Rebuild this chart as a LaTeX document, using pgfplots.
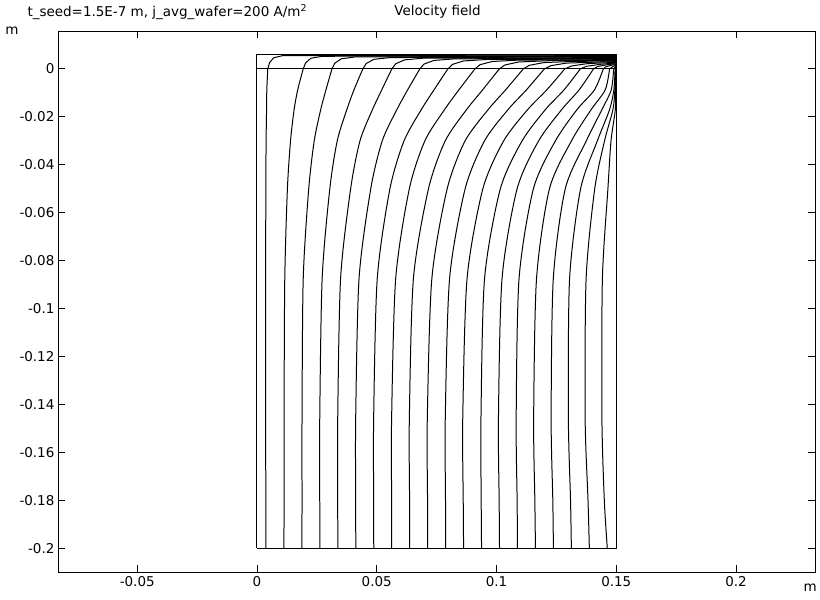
\documentclass[border=0pt]{standalone}
\usepackage{fontspec}
\setmainfont{DejaVu Sans}
\usepackage{pgfplots}
\pgfplotsset{compat=1.18}
\pgfplotsset{
  sl/.style={black, line width=1pt, line join=round},
  lo/.style={sl, smooth, tension=0.45},
}
\newcommand{\lbl}{\fontsize{13.5}{16}\selectfont}
\begin{document}
\begin{tikzpicture}
\begin{axis}[
    scale only axis,
    width=758pt, height=542pt,
    xmin=-0.0831, xmax=0.233,
    ymin=-0.21, ymax=0.0158,
    xtick={-0.05,0,0.05,0.1,0.15,0.2},
    xticklabels={-0.05,0,0.05,0.1,0.15,0.2},
    ytick={-0.2,-0.18,-0.16,-0.14,-0.12,-0.1,-0.08,-0.06,-0.04,-0.02,0},
    yticklabels={-0.2,-0.18,-0.16,-0.14,-0.12,-0.1,-0.08,-0.06,-0.04,-0.02,0},
    tick align=inside,
    major tick length=7pt,
    tick label style={font=\lbl},
    xticklabel style={yshift=-1pt},
    axis line style={line width=0.8pt},
    every tick/.style={black, line width=0.8pt},
]
% geometry
\addplot[sl] coordinates {(0,-0.2) (0.15,-0.2) (0.15,0.006) (0,0.006) (0,-0.2)};
\addplot[sl] coordinates {(0,0) (0.15,0)};
% streamlines: part below y=0 (smooth) and part inside the thin gap
\addplot[lo] coordinates {(0.00375,-0.2)(0.0037,-0.18)(0.0036,-0.146)(0.0036,-0.0875)(0.0037,-0.05)(0.0038,-0.03)(0.0040,-0.017)(0.0041,-0.00875)(0.0045,0)};
\addplot[sl] coordinates {(0.0045,0)(0.00525,0.0026)(0.0070,0.00464)(0.01075,0.00551)(0.15,0.0058)};
\addplot[lo] coordinates {(0.01125,-0.2)(0.0113,-0.18)(0.0113,-0.146)(0.0116,-0.0875)(0.0127,-0.05)(0.0140,-0.03)(0.0155,-0.017)(0.0170,-0.00875)(0.0193,0)};
\addplot[sl] coordinates {(0.0193,0)(0.0203,0.00248)(0.0225,0.00442)(0.0273,0.00524)(0.15,0.00552)};
\addplot[lo] coordinates {(0.01875,-0.2)(0.0188,-0.18)(0.0188,-0.146)(0.0193,-0.0875)(0.0216,-0.05)(0.0239,-0.03)(0.0266,-0.017)(0.0288,-0.00875)(0.0313,0)};
\addplot[sl] coordinates {(0.0313,0)(0.0325,0.00236)(0.0352,0.00419)(0.0411,0.00498)(0.15,0.00524)};
\addplot[lo] coordinates {(0.02625,-0.2)(0.0262,-0.18)(0.0262,-0.146)(0.0272,-0.0875)(0.0304,-0.05)(0.0335,-0.03)(0.0375,-0.017)(0.0405,-0.00875)(0.0442,0)};
\addplot[sl] coordinates {(0.0442,0)(0.0456,0.00223)(0.0488,0.00397)(0.0557,0.00471)(0.15,0.00496)};
\addplot[lo] coordinates {(0.03375,-0.2)(0.0337,-0.18)(0.0337,-0.146)(0.0349,-0.0875)(0.0391,-0.05)(0.0430,-0.03)(0.0482,-0.017)(0.0521,-0.00875)(0.0563,0)};
\addplot[sl] coordinates {(0.0563,0)(0.0579,0.00211)(0.0616,0.00374)(0.0696,0.00445)(0.15,0.00468)};
\addplot[lo] coordinates {(0.04125,-0.2)(0.0412,-0.18)(0.0412,-0.146)(0.0426,-0.0875)(0.0475,-0.05)(0.0523,-0.03)(0.0584,-0.017)(0.0629,-0.00875)(0.0680,0)};
\addplot[sl] coordinates {(0.0680,0)(0.0697,0.00198)(0.0739,0.00352)(0.0829,0.00418)(0.15,0.0044)};
\addplot[lo] coordinates {(0.04875,-0.2)(0.0487,-0.18)(0.0487,-0.146)(0.0502,-0.0875)(0.0555,-0.05)(0.0614,-0.03)(0.0686,-0.017)(0.0739,-0.00875)(0.0797,0)};
\addplot[sl] coordinates {(0.0797,0)(0.0816,0.00185)(0.0862,0.0033)(0.0962,0.00391)(0.15,0.00412)};
\addplot[lo] coordinates {(0.05625,-0.2)(0.0562,-0.18)(0.0562,-0.146)(0.0579,-0.0875)(0.0636,-0.05)(0.0701,-0.03)(0.0783,-0.017)(0.0843,-0.00875)(0.0910,0)};
\addplot[sl] coordinates {(0.0910,0)(0.0931,0.00173)(0.0982,0.00307)(0.1092,0.00365)(0.15,0.00384)};
\addplot[lo] coordinates {(0.06375,-0.2)(0.0637,-0.18)(0.0636,-0.146)(0.0653,-0.0875)(0.0716,-0.05)(0.0786,-0.03)(0.0875,-0.017)(0.0942,-0.00875)(0.1012,0)};
\addplot[sl] coordinates {(0.1012,0)(0.1035,0.0016)(0.1091,0.00285)(0.1212,0.00338)(0.15,0.00356)};
\addplot[lo] coordinates {(0.07125,-0.2)(0.0712,-0.18)(0.0711,-0.146)(0.0730,-0.0875)(0.0794,-0.05)(0.0869,-0.03)(0.0965,-0.017)(0.1038,-0.00875)(0.1112,0)};
\addplot[sl] coordinates {(0.1112,0)(0.1137,0.00148)(0.1198,0.00262)(0.1328,0.00312)(0.15,0.00328)};
\addplot[lo] coordinates {(0.07875,-0.2)(0.0787,-0.18)(0.0786,-0.146)(0.0804,-0.0875)(0.0869,-0.05)(0.0950,-0.03)(0.1048,-0.017)(0.1125,-0.00875)(0.1200,0)};
\addplot[sl] coordinates {(0.1200,0)(0.1228,0.00135)(0.1292,0.0024)(0.1433,0.00285)(0.15,0.003)};
\addplot[lo] coordinates {(0.08625,-0.2)(0.0861,-0.18)(0.0859,-0.146)(0.0877,-0.0875)(0.0943,-0.05)(0.1030,-0.03)(0.1130,-0.017)(0.1210,-0.00875)(0.1285,0)};
\addplot[sl] coordinates {(0.1285,0)(0.1314,0.00122)(0.1380,0.00218)(0.15,0.00272)};
\addplot[lo] coordinates {(0.09375,-0.2)(0.0936,-0.18)(0.0935,-0.146)(0.0950,-0.0875)(0.1016,-0.05)(0.1107,-0.03)(0.1204,-0.017)(0.1282,-0.00875)(0.1350,0)};
\addplot[sl] coordinates {(0.1350,0)(0.1377,0.0011)(0.1439,0.00195)(0.15,0.00244)};
\addplot[lo] coordinates {(0.10125,-0.2)(0.1011,-0.18)(0.1008,-0.146)(0.1023,-0.0875)(0.1086,-0.05)(0.1176,-0.03)(0.1272,-0.017)(0.1345,-0.00875)(0.1405,0)};
\addplot[sl] coordinates {(0.1405,0)(0.1422,0.00097)(0.1462,0.00173)(0.15,0.00216)};
\addplot[lo] coordinates {(0.10875,-0.2)(0.1086,-0.18)(0.1082,-0.146)(0.1094,-0.0875)(0.1154,-0.05)(0.1246,-0.03)(0.1336,-0.017)(0.1409,-0.00875)(0.1446,0)};
\addplot[sl] coordinates {(0.1446,0)(0.1456,0.00085)(0.1479,0.0015)(0.15,0.00188)};
\addplot[lo] coordinates {(0.11625,-0.2)(0.1160,-0.18)(0.1155,-0.146)(0.1167,-0.0875)(0.1221,-0.05)(0.1313,-0.03)(0.1395,-0.017)(0.1454,-0.00875)(0.1472,0)};
\addplot[sl] coordinates {(0.1472,0)(0.1485,0.0009)(0.15,0.0016)};
\addplot[lo] coordinates {(0.12375,-0.2)(0.1235,-0.18)(0.1228,-0.146)(0.1237,-0.0875)(0.1287,-0.05)(0.1375,-0.03)(0.1440,-0.017)(0.1479,-0.00875)(0.1489,0)};
\addplot[sl] coordinates {(0.1489,0)(0.1495,0.0007)(0.15,0.00132)};
\addplot[lo] coordinates {(0.13125,-0.2)(0.1309,-0.18)(0.1300,-0.146)(0.1305,-0.0875)(0.1351,-0.05)(0.1421,-0.03)(0.1472,-0.017)(0.1490,-0.00875)(0.1495,0)};
\addplot[sl] coordinates {(0.1495,0)(0.15,0.00104)};
\addplot[lo] coordinates {(0.13875,-0.2)(0.1382,-0.18)(0.1370,-0.146)(0.1374,-0.0875)(0.1410,-0.05)(0.1451,-0.03)(0.1486,-0.017)(0.1494,-0.00875)(0.1497,0)};
\addplot[sl] coordinates {(0.1497,0)(0.15,0.00076)};
\addplot[lo] coordinates {(0.14625,-0.2)(0.1450,-0.18)(0.1440,-0.146)(0.1442,-0.0875)(0.1465,-0.05)(0.1478,-0.03)(0.1496,-0.017)(0.1497,-0.00875)(0.1499,0)};
\addplot[sl] coordinates {(0.1499,0)(0.15,0.00048)};
\end{axis}
\node[anchor=west, font=\lbl] at ([xshift=-34pt,yshift=19pt]current axis.north west) {t\_seed=1.5E-7 m, j\_avg\_wafer=200 A/m\textsuperscript{2}};
\node[font=\lbl] at ([xshift=380pt,yshift=19pt]current axis.north west) {Velocity field};
\node[font=\lbl] at ([xshift=-46pt,yshift=0pt]current axis.north west) {m};
\node[font=\lbl] at ([xshift=-5pt,yshift=-15pt]current axis.south east) {m};
\path ([xshift=-58pt,yshift=-27pt]current axis.south west) rectangle ([xshift=4pt,yshift=31pt]current axis.north east);
\end{tikzpicture}
\end{document}
